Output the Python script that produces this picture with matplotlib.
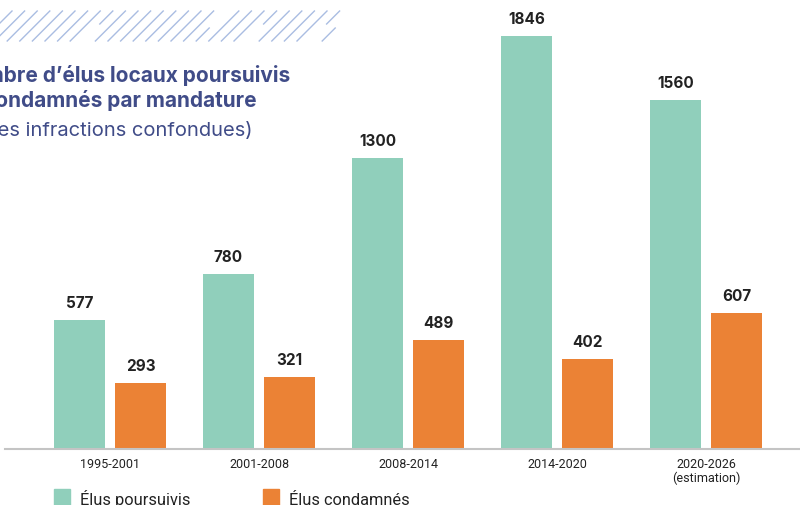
import matplotlib.pyplot as plt
from matplotlib.patches import Rectangle
from matplotlib.lines import Line2D
from matplotlib import font_manager
import numpy as np

# Données par mandature
mandatures = ["1995-2001", "2001-2008", "2008-2014", "2014-2020", "2020-2026\n(estimation)"]
poursuivis = [577, 780, 1300, 1846, 1560]
condamnes = [293, 321, 489, 402, 607]

VERT = "#90cfbb"
ORANGE = "#eb8235"
BLEU = "#404c88"
HACHURE = "#aabde2"

W, H = 800, 506

noms = {f.name for f in font_manager.fontManager.ttflist}
police = "Inter" if "Inter" in noms else "DejaVu Sans"
etroite = "Liberation Sans Narrow" if "Liberation Sans Narrow" in noms else "Roboto"

fig = plt.figure(figsize=(W / 100, H / 100), dpi=100)

def fx(px):
    return px / W

def fy(py):
    return 1 - py / H

# axe : ligne de base à y=450 px, barre la plus haute à y=37 px
ax = fig.add_axes([fx(5), fy(450), fx(795), (450 - 37) / H])
x = np.arange(len(mandatures))
pas = 149.0
largeur = 51 / pas
decal = 30.5 / pas

ax.bar(x - decal, poursuivis, largeur, color=VERT)
ax.bar(x + decal, condamnes, largeur, color=ORANGE)

for xi, v in zip(x - decal, poursuivis):
    ax.annotate(str(v), (xi, v), xytext=(0, 13 * 0.72), textcoords="offset points",
                ha="center", va="baseline", fontsize=11, fontweight="bold",
                color="#222222", family=police)
for xi, v in zip(x + decal, condamnes):
    ax.annotate(str(v), (xi, v), xytext=(0, 13 * 0.72), textcoords="offset points",
                ha="center", va="baseline", fontsize=11, fontweight="bold",
                color="#222222", family=police)

ax.set_xlim((5 - 110) / pas, (800 - 110) / pas)
ax.set_ylim(0, max(poursuivis))
ax.set_xticks(x)
ax.set_xticklabels(mandatures, family=etroite, fontsize=9, color="#222222",
                   linespacing=1.0)
ax.tick_params(axis="x", length=0, pad=6)
ax.set_yticks([])
for s in ["top", "right", "left"]:
    ax.spines[s].set_visible(False)
ax.spines["bottom"].set_color("#c4c4c4")
ax.spines["bottom"].set_linewidth(1.5)
ax.patch.set_visible(False)

# bandeau de hachures en haut à gauche
coupures = {8: "bas", 17: "haut", 21: "bas", 26: "bas"}
for i in range(28):
    x0 = -18 + i * 12.6
    y_bas, y_haut = 42, 12
    if i == 27:
        y_haut = 29
    mi = (y_bas + y_haut) / 2
    morceaux = [(y_bas, y_haut)]
    if coupures.get(i) == "bas":
        morceaux = [(mi - 2, y_haut)]
    elif coupures.get(i) == "haut":
        morceaux = [(y_bas, mi + 2)]
    for yb, yh in morceaux:
        xa = x0 + (42 - yb)
        xb = x0 + (42 - yh)
        fig.add_artist(Line2D([fx(xa), fx(xb)], [fy(yb), fy(yh)],
                              color=HACHURE, lw=1.0, transform=fig.transFigure))

# titre (débordant à gauche)
fig.text(fx(290), fy(82), "Nombre d\u2019élus locaux poursuivis", ha="right",
         va="baseline", fontsize=15, fontweight="bold", color=BLEU, family=police)
fig.text(fx(257), fy(107), "et condamnés par mandature", ha="right",
         va="baseline", fontsize=15, fontweight="bold", color=BLEU, family=police)
fig.text(fx(253), fy(136), "(toutes infractions confondues)", ha="right",
         va="baseline", fontsize=14.5, color=BLEU, family=police)

# légende
for x0, couleur, texte in [(54, VERT, "Élus poursuivis"), (263, ORANGE, "Élus condamnés")]:
    fig.add_artist(Rectangle((fx(x0), fy(508)), fx(16), 18 / H,
                             color=couleur, transform=fig.transFigure))
    fig.text(fx(x0 + 26), fy(505), texte, ha="left", va="baseline",
             fontsize=11.8, color="#222222", family=etroite)

fig.savefig("out.png", dpi=100)
